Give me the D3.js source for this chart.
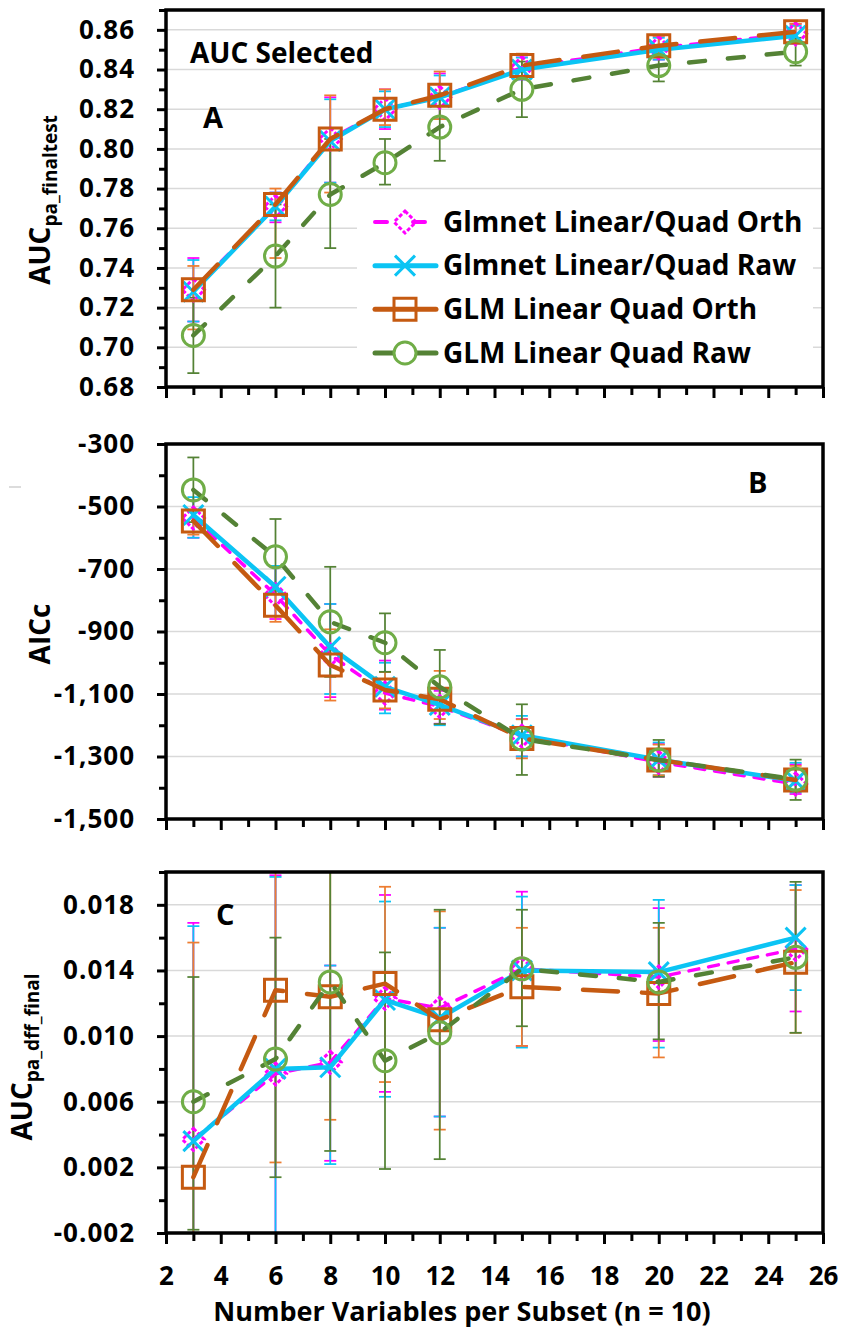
<!DOCTYPE html>
<html>
<head>
<meta charset="utf-8">
<script src="https://cdn.jsdelivr.net/npm/d3@7"></script>
<style>
  body { margin: 0; background: #fff; }
  svg { display: block; font-family: "Open Sans", sans-serif; font-weight: 700; }
</style>
</head>
<body>
<div id="chart"></div>
<script>
// ---- DATA ----
const xVals = [3, 6, 8, 10, 12, 15, 20, 25];
const xTicks = [2, 4, 6, 8, 10, 12, 14, 16, 18, 20, 22, 24, 26];
const seriesNames = ["Glmnet Linear/Quad Orth", "Glmnet Linear/Quad Raw", "GLM Linear Quad Orth", "GLM Linear Quad Raw"];

// Panel A: AUC pa_finaltest
const aucTicks = [0.68, 0.70, 0.72, 0.74, 0.76, 0.78, 0.80, 0.82, 0.84, 0.86];
const aucGlmnetOrth   = [0.729, 0.771, 0.805, 0.820, 0.826, 0.841, 0.851, 0.858];
const aucGlmnetOrthLo = [0.713, 0.763, 0.783, 0.810, 0.815, 0.835, 0.845, 0.853];
const aucGlmnetOrthHi = [0.745, 0.778, 0.826, 0.830, 0.838, 0.847, 0.857, 0.863];
const aucGlmnetRaw    = [0.728, 0.771, 0.804, 0.820, 0.826, 0.840, 0.850, 0.857];
const aucGlmnetRawLo  = [0.713, 0.764, 0.783, 0.811, 0.815, 0.835, 0.845, 0.853];
const aucGlmnetRawHi  = [0.744, 0.778, 0.825, 0.829, 0.837, 0.846, 0.856, 0.862];
const aucGlmOrth      = [0.729, 0.772, 0.805, 0.820, 0.827, 0.842, 0.852, 0.859];
const aucGlmOrthLo    = [0.709, 0.745, 0.778, 0.812, 0.815, 0.836, 0.846, 0.853];
const aucGlmOrthHi    = [0.741, 0.780, 0.827, 0.830, 0.839, 0.848, 0.857, 0.863];
const aucGlmRaw       = [0.706, 0.746, 0.777, 0.793, 0.811, 0.830, 0.842, 0.849];
const aucGlmRawLo     = [0.687, 0.720, 0.750, 0.782, 0.794, 0.816, 0.834, 0.842];
const aucGlmRawHi     = [0.725, 0.772, 0.805, 0.805, 0.828, 0.844, 0.848, 0.856];

// Panel B: AICc
const aicTicks = [-1500, -1300, -1100, -900, -700, -500, -300];
const aicGlmnetOrth   = [-537, -783, -975, -1097, -1140, -1235, -1318, -1388];
const aicGlmnetOrthLo = [-600, -860, -1110, -1150, -1195, -1300, -1365, -1420];
const aicGlmnetOrthHi = [-480, -693, -812, -993, -1090, -1180, -1260, -1325];
const aicGlmnetRaw    = [-527, -757, -950, -1077, -1135, -1232, -1310, -1378];
const aicGlmnetRawLo  = [-600, -850, -1100, -1162, -1200, -1300, -1360, -1415];
const aicGlmnetRawHi  = [-470, -690, -812, -1000, -1085, -1170, -1255, -1320];
const aicGlmOrth      = [-546, -816, -1007, -1087, -1117, -1242, -1311, -1375];
const aicGlmOrthLo    = [-590, -869, -1121, -1146, -1180, -1306, -1360, -1410];
const aicGlmOrthHi    = [-510, -770, -893, -1030, -1026, -1181, -1262, -1330];
const aicGlmRaw       = [-447, -661, -869, -936, -1077, -1244, -1311, -1373];
const aicGlmRawLo     = [-550, -780, -1045, -1029, -1196, -1359, -1365, -1439];
const aicGlmRawHi     = [-343, -540, -693, -842, -959, -1133, -1247, -1310];

// Panel C: AUC pa_dff_final
const dffTicks = [-0.002, 0.002, 0.006, 0.010, 0.014, 0.018];
const dffGlmnetOrth   = [0.0037, 0.0077, 0.0084, 0.0123, 0.0117, 0.0141, 0.0136, 0.0153];
const dffGlmnetOrthLo = [-0.0095, -0.0043, 0.0024, 0.0066, 0.0051, 0.0094, 0.0097, 0.0115];
const dffGlmnetOrthHi = [0.0169, 0.0198, 0.0143, 0.0186, 0.0166, 0.0188, 0.0178, 0.0192];
const dffGlmnetRaw    = [0.0036, 0.0080, 0.0081, 0.0122, 0.0111, 0.0140, 0.0139, 0.0160];
const dffGlmnetRawLo  = [-0.0095, -0.0040, 0.0022, 0.0063, 0.0051, 0.0093, 0.0093, 0.0128];
const dffGlmnetRawHi  = [0.0167, 0.0197, 0.0143, 0.0182, 0.0166, 0.0185, 0.0183, 0.0192];
const dffGlmOrth      = [0.0014, 0.0128, 0.0124, 0.0132, 0.0110, 0.0130, 0.0126, 0.0145];
const dffGlmOrthLo    = [-0.0130, 0.0023, 0.0049, 0.0072, 0.0043, 0.0094, 0.0087, 0.0102];
const dffGlmOrthHi    = [0.0157, 0.0205, 0.0205, 0.0191, 0.0176, 0.0166, 0.0166, 0.0189];
const dffGlmRaw       = [0.0060, 0.0086, 0.0133, 0.0085, 0.0102, 0.0141, 0.0133, 0.0148];
const dffGlmRawLo     = [-0.0018, 0.0014, 0.0030, 0.0019, 0.0025, 0.0106, 0.0098, 0.0102];
const dffGlmRawHi     = [0.0136, 0.0160, 0.0205, 0.0151, 0.0177, 0.0177, 0.0169, 0.0194];

// ---- STYLES ----
const seriesStyle = [
    { line: "#FF00FF", err: "#FF00FF", mark: "#FF00FF", width: 3.5, dash: "10,10", marker: "diamond" },
    { line: "#0BC4F4", err: "#0BC4F4", mark: "#0BC4F4", width: 4.5, dash: null,    marker: "x" },
    { line: "#C55A11", err: "#ED7D31", mark: "#C55A11", width: 4.5, dash: "35,24", marker: "square" },
    { line: "#548235", err: "#548235", mark: "#70AD47", width: 4.5, dash: "16,23", marker: "circle" }
];

const W = 844, H = 1333;
const plotLeft = 166, plotRight = 823;
const fmtMinus = f => d => f(d).replace("\u2212", "-");

const svg = d3.select("#chart").append("svg")
    .attr("width", W)
    .attr("height", H);

const x = d3.scaleLinear().domain([2, 26]).range([plotLeft, plotRight]);

function markerPath(type) {
    const p = d3.path();
    if (type === "x") {
        const r = 10;
        p.moveTo(-r, -r); p.lineTo(r, r);
        p.moveTo(-r, r); p.lineTo(r, -r);
        return p.toString();
    }
    if (type === "diamond") {
        const r = 11;
        p.moveTo(0, -r); p.lineTo(r, 0); p.lineTo(0, r); p.lineTo(-r, 0); p.closePath();
        return p.toString();
    }
    if (type === "square") {
        const r = 11;
        p.rect(-r, -r, 2 * r, 2 * r);
        return p.toString();
    }
    p.arc(0, 0, 11, 0, 2 * Math.PI);
    return p.toString();
}

function drawMarker(g, type, st, cx, cy, fill) {
    g.append("path")
        .attr("d", markerPath(type))
        .attr("transform", `translate(${cx},${cy})`)
        .attr("fill", fill || "none")
        .attr("stroke", st.mark)
        .attr("stroke-width", 3)
        .attr("stroke-dasharray", type === "diamond" ? "4,2" : null);
}

function drawPanel(cfg) {
    const y = d3.scaleLinear().domain(cfg.domain).range([cfg.bottom, cfg.top]);
    const g = svg.append("g");
    const clipId = "clip-" + cfg.id;

    svg.append("clipPath").attr("id", clipId)
        .append("rect")
        .attr("x", plotLeft).attr("y", cfg.top)
        .attr("width", plotRight - plotLeft).attr("height", cfg.bottom - cfg.top);

    // gridlines
    g.selectAll(".grid")
        .data(cfg.ticks.filter(t => t !== cfg.domain[0]))
        .enter().append("line")
        .attr("x1", plotLeft).attr("x2", plotRight)
        .attr("y1", d => y(d)).attr("y2", d => y(d))
        .attr("stroke", "#D9D9D9")
        .attr("stroke-width", 1.5);

    // y axis: minor then major
    g.append("g")
        .attr("transform", `translate(${plotLeft},0)`)
        .call(d3.axisLeft(y).tickValues(cfg.minor).tickSize(7).tickFormat(""))
        .call(a => a.select(".domain").remove())
        .call(a => a.selectAll("line").attr("stroke", "#000").attr("stroke-width", 3));

    g.append("g")
        .attr("transform", `translate(${plotLeft},0)`)
        .call(d3.axisLeft(y).tickValues(cfg.ticks).tickSize(9).tickPadding(22).tickFormat(cfg.fmt))
        .call(a => a.select(".domain").remove())
        .call(a => a.selectAll("line").attr("stroke", "#000").attr("stroke-width", 3))
        .call(a => a.selectAll("text")
            .attr("fill", "#000")
            .attr("font-size", 26)
            .attr("font-weight", 700)
            .attr("letter-spacing", 1)
            .attr("font-family", "'Open Sans', sans-serif"));

    // x axis ticks (minor then major)
    g.append("g")
        .attr("transform", `translate(0,${cfg.bottom})`)
        .call(d3.axisBottom(x).tickValues(d3.range(3, 26, 2)).tickSize(8).tickFormat(""))
        .call(a => a.select(".domain").remove())
        .call(a => a.selectAll("line").attr("stroke", "#000").attr("stroke-width", 3));

    const xAxis = d3.axisBottom(x).tickValues(xTicks).tickSize(11).tickPadding(23)
        .tickFormat(cfg.xLabels ? d3.format("d") : "");
    g.append("g")
        .attr("transform", `translate(0,${cfg.bottom})`)
        .call(xAxis)
        .call(a => a.select(".domain").remove())
        .call(a => a.selectAll("line").attr("stroke", "#000").attr("stroke-width", 3))
        .call(a => a.selectAll("text")
            .attr("fill", "#000")
            .attr("font-size", 26)
            .attr("font-weight", 700)
            .attr("font-family", "'Open Sans', sans-serif"));

    // series
    const plot = g.append("g").attr("clip-path", `url(#${clipId})`);

    cfg.series.forEach((s, k) => {
        const st = seriesStyle[k];
        const eb = plot.append("g")
            .attr("stroke", st.err)
            .attr("stroke-width", 1.75);
        xVals.forEach((xv, i) => {
            const cx = x(xv);
            eb.append("line")
                .attr("x1", cx).attr("x2", cx)
                .attr("y1", y(s.lo[i])).attr("y2", y(s.hi[i]));
            [s.lo[i], s.hi[i]].forEach(v => {
                eb.append("line")
                    .attr("x1", cx - 6).attr("x2", cx + 6)
                    .attr("y1", y(v)).attr("y2", y(v));
            });
        });
    });

    cfg.series.forEach((s, k) => {
        const st = seriesStyle[k];
        const line = d3.line()
            .x((d, i) => x(xVals[i]))
            .y(d => y(d));
        plot.append("path")
            .datum(s.mean)
            .attr("fill", "none")
            .attr("stroke", st.line)
            .attr("stroke-width", st.width)
            .attr("stroke-linecap", "round")
            .attr("stroke-linejoin", "round")
            .attr("stroke-dasharray", st.dash)
            .attr("d", line);
        s.mean.forEach((v, i) => drawMarker(plot, st.marker, st, x(xVals[i]), y(v)));
    });

    // frame
    g.append("rect")
        .attr("x", plotLeft).attr("y", cfg.top)
        .attr("width", plotRight - plotLeft).attr("height", cfg.bottom - cfg.top)
        .attr("fill", "none")
        .attr("stroke", "#000")
        .attr("stroke-width", 3.5);

    // y title
    const t = g.append("text")
        .attr("transform", `translate(${cfg.titleX},${cfg.titleY}) rotate(-90)`)
        .attr("text-anchor", "middle")
        .attr("font-size", 28)
        .attr("fill", "#000")
        .text(cfg.title);
    if (cfg.sub) {
        t.append("tspan")
            .attr("font-size", 19)
            .attr("dy", 7)
            .text(cfg.sub);
    }

    // panel letter
    g.append("text")
        .attr("x", cfg.letterX).attr("y", cfg.letterY)
        .attr("font-size", 29)
        .attr("fill", "#000")
        .text(cfg.letter);

    return { g, y };
}

drawPanel({
    id: "a", top: 10, bottom: 387, domain: [0.68, 0.87],
    ticks: aucTicks, minor: d3.range(0.69, 0.87, 0.02),
    fmt: d3.format(".2f"),
    title: "AUC", sub: "pa_finaltest", titleX: 50, titleY: 200,
    letter: "A", letterX: 203, letterY: 128,
    series: [
        { mean: aucGlmnetOrth, lo: aucGlmnetOrthLo, hi: aucGlmnetOrthHi },
        { mean: aucGlmnetRaw,  lo: aucGlmnetRawLo,  hi: aucGlmnetRawHi },
        { mean: aucGlmOrth,    lo: aucGlmOrthLo,    hi: aucGlmOrthHi },
        { mean: aucGlmRaw,     lo: aucGlmRawLo,     hi: aucGlmRawHi }
    ]
});

drawPanel({
    id: "b", top: 444, bottom: 819, domain: [-1500, -300],
    ticks: aicTicks, minor: d3.range(-1400, -300, 200),
    fmt: fmtMinus(d3.format(",")),
    title: "AICc", titleX: 50, titleY: 634,
    letter: "B", letterX: 748, letterY: 493,
    series: [
        { mean: aicGlmnetOrth, lo: aicGlmnetOrthLo, hi: aicGlmnetOrthHi },
        { mean: aicGlmnetRaw,  lo: aicGlmnetRawLo,  hi: aicGlmnetRawHi },
        { mean: aicGlmOrth,    lo: aicGlmOrthLo,    hi: aicGlmOrthHi },
        { mean: aicGlmRaw,     lo: aicGlmRawLo,     hi: aicGlmRawHi }
    ]
});

drawPanel({
    id: "c", top: 872, bottom: 1233, domain: [-0.002, 0.020],
    ticks: dffTicks, minor: d3.range(0.000, 0.0205, 0.004),
    fmt: fmtMinus(d3.format(".3f")),
    title: "AUC", sub: "pa_dff_final", titleX: 32, titleY: 1057,
    letter: "C", letterX: 216, letterY: 925,
    xLabels: true,
    series: [
        { mean: dffGlmnetOrth, lo: dffGlmnetOrthLo, hi: dffGlmnetOrthHi },
        { mean: dffGlmnetRaw,  lo: dffGlmnetRawLo,  hi: dffGlmnetRawHi },
        { mean: dffGlmOrth,    lo: dffGlmOrthLo,    hi: dffGlmOrthHi },
        { mean: dffGlmRaw,     lo: dffGlmRawLo,     hi: dffGlmRawHi }
    ]
});

// "AUC Selected" note in panel A
svg.append("text")
    .attr("x", 190).attr("y", 63)
    .attr("font-size", 28)
    .attr("fill", "#000")
    .text("AUC Selected");

// legend (panel A)
const legend = svg.append("g");
legend.append("rect")
    .attr("x", 357).attr("y", 198)
    .attr("width", 456).attr("height", 186)
    .attr("fill", "#fff");

const legendY = d3.scalePoint().domain(seriesNames).range([222, 353]);
seriesNames.forEach((name, k) => {
    const st = seriesStyle[k];
    const ly = legendY(name);
    legend.append("line")
        .attr("x1", 375).attr("x2", 436)
        .attr("y1", ly).attr("y2", ly)
        .attr("stroke", st.line)
        .attr("stroke-width", st.width + 0.5)
        .attr("stroke-linecap", "round")
        .attr("stroke-dasharray", k === 0 ? "12,26" : null);
    drawMarker(legend, st.marker, st, 405, ly, st.marker === "circle" ? "#fff" : null);
    legend.append("text")
        .attr("x", 443).attr("y", ly)
        .attr("dy", "0.35em")
        .attr("font-size", 28)
        .attr("fill", "#000")
        .text(name);
});

// x axis title
svg.append("text")
    .attr("x", 462).attr("y", 1321)
    .attr("text-anchor", "middle")
    .attr("font-size", 27)
    .attr("fill", "#000")
    .text("Number Variables per Subset (n = 10)");

// small stray mark left of panel B
svg.append("line")
    .attr("x1", 9).attr("x2", 21)
    .attr("y1", 487).attr("y2", 487)
    .attr("stroke", "#D0D0D0")
    .attr("stroke-width", 1.5);
</script>
</body>
</html>
